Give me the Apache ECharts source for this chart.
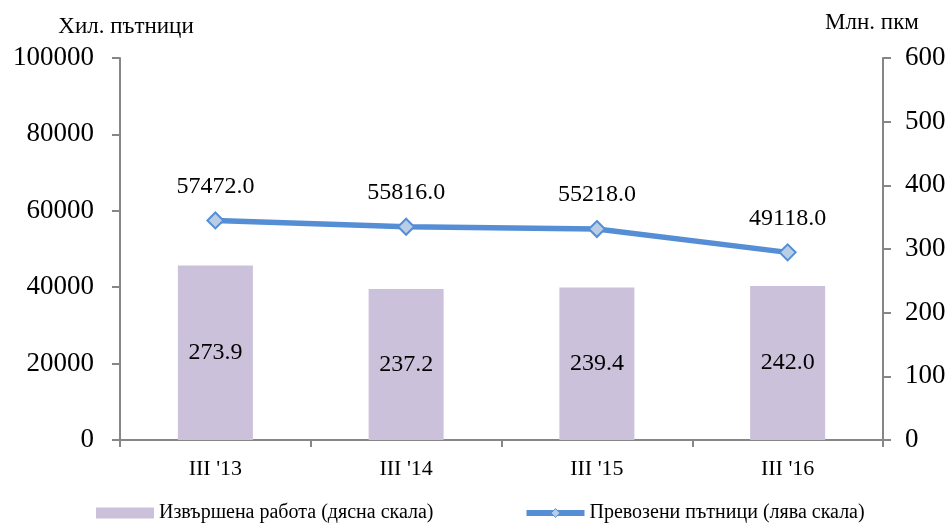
<!DOCTYPE html>
<html><head><meta charset="utf-8">
<script src="https://cdn.jsdelivr.net/npm/echarts@6/dist/echarts.min.js"></script>
<style>html,body{margin:0;padding:0;background:#fff}#c{width:952px;height:529px}</style>
</head><body><div id="c"></div>
<script>
var categories = ["III '13", "III '14", "III '15", "III '16"];
var workDone = [273.9, 237.2, 239.4, 242.0];
var passengers = [57472.0, 55816.0, 55218.0, 49118.0];
var leftTicks = [0, 20000, 40000, 60000, 80000, 100000];
var rightTicks = [0, 100, 200, 300, 400, 500, 600];

var FONT = '"Liberation Serif", "DejaVu Serif", serif';
var AX = '#868686';
var chart = echarts.init(document.getElementById('c'));
chart.setOption({
  animation: false,
  textStyle: {fontFamily: FONT, color: '#000'},
  grid: {left: 120, right: 69, top: 58, bottom: 89},
  legend: {
    bottom: 1, left: 91, itemGap: 90, itemWidth: 58, itemHeight: 11,
    textStyle: {fontFamily: FONT, fontSize: 20, color: '#000'},
    data: [
      {name: 'Извършена работа (дясна скала)', icon: 'rect'},
      {name: 'Превозени пътници (лява скала)', lineStyle: {width: 6, color: '#558ED5'},
        itemStyle: {color: '#B9CDE5', borderColor: '#558ED5', borderWidth: 1}}
    ]
  },
  xAxis: {
    type: 'category', data: categories,
    axisLine: {lineStyle: {color: AX, width: 2}},
    axisTick: {show: true, length: 7, lineStyle: {color: AX, width: 2}},
    axisLabel: {fontFamily: FONT, fontSize: 22, color: '#000', margin: 18}
  },
  yAxis: [
    {
      type: 'value', min: leftTicks[0], max: leftTicks[leftTicks.length - 1], interval: 20000,
      position: 'left',
      name: 'Хил. пътници', nameLocation: 'end', nameGap: 20,
      nameTextStyle: {fontFamily: FONT, fontSize: 23, color: '#000', align: 'center', padding: [0, 0, 0, 12]},
      axisLine: {show: true, lineStyle: {color: AX, width: 2}},
      axisTick: {show: true, length: 8, lineStyle: {color: AX, width: 2}},
      axisLabel: {fontFamily: FONT, fontSize: 27, color: '#000', margin: 26,
        formatter: function (v) { return String(v); }},
      splitLine: {show: false}
    },
    {
      type: 'value', min: rightTicks[0], max: rightTicks[rightTicks.length - 1], interval: 100,
      position: 'right',
      name: 'Млн. пкм', nameLocation: 'end', nameGap: 24,
      nameTextStyle: {fontFamily: FONT, fontSize: 23, color: '#000', align: 'center', padding: [0, 0, 0, -22]},
      axisLine: {show: true, lineStyle: {color: AX, width: 2}},
      axisTick: {show: true, length: 8, lineStyle: {color: AX, width: 2}},
      axisLabel: {fontFamily: FONT, fontSize: 27, color: '#000', margin: 22},
      splitLine: {show: false}
    }
  ],
  series: [
    {
      name: 'Извършена работа (дясна скала)', type: 'bar', yAxisIndex: 1,
      data: workDone, barWidth: 75,
      itemStyle: {color: '#CCC1DA'},
      label: {show: true, position: 'inside', fontFamily: FONT, fontSize: 24, color: '#000',
        formatter: function (p) { return p.value.toFixed(1); }}
    },
    {
      name: 'Превозени пътници (лява скала)', type: 'line', yAxisIndex: 0,
      data: passengers, symbol: 'diamond', symbolSize: 16,
      lineStyle: {color: '#558ED5', width: 5.5},
      itemStyle: {color: '#B9CDE5', borderColor: '#558ED5', borderWidth: 2},
      label: {show: true, position: 'top', distance: 13, fontFamily: FONT, fontSize: 24, color: '#000',
        formatter: function (p) { return p.value.toFixed(1); }}
    }
  ]
});
</script></body></html>
